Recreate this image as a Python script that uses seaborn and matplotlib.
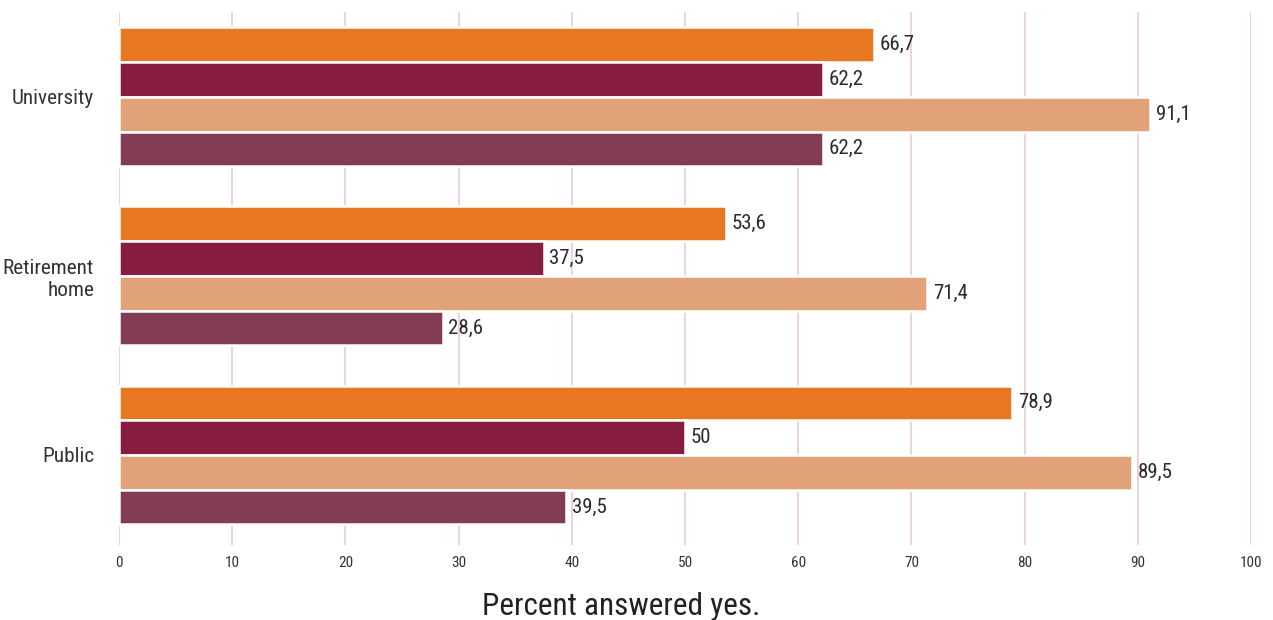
import matplotlib
matplotlib.use("Agg")
import matplotlib.pyplot as plt
import matplotlib.font_manager as fm
import pandas as pd
import seaborn as sns

categories = ["University", "Retirement\nhome", "Public"]
series = ["Q1", "Q2", "Q3", "Q4"]
q1 = [66.7, 53.6, 78.9]
q2 = [62.2, 37.5, 50.0]
q3 = [91.1, 71.4, 89.5]
q4 = [62.2, 28.6, 39.5]
colors = ["#E87722", "#861C3F", "#E1A27A", "#823D55"]
x_ticks = list(range(0, 101, 10))

sns.set_theme(style="white")

# prefer a narrow sans face when one is installed
narrow = [f for f in fm.fontManager.ttflist
          if f.stretch in ("condensed", "semi-condensed", "extra-condensed")
          or "Condensed" in f.name or "Narrow" in f.name]
pref = ["Roboto", "Noto Sans", "Open Sans", "Liberation Sans Narrow", "Lato", "Inter", "DejaVu Sans"]
family, stretch = "Roboto", "normal"
for p in pref:
    hits = [f for f in narrow if f.name.startswith(p) and "Mono" not in f.name and "Serif" not in f.name]
    if hits:
        family = hits[0].name
        stretch = hits[0].stretch
        break
plt.rcParams["font.family"] = [family, "DejaVu Sans"]
plt.rcParams["font.stretch"] = stretch

rows = []
for s, vals in zip(series, [q1, q2, q3, q4]):
    for c, v in zip(categories, vals):
        rows.append({"category": c, "series": s, "value": v})
df = pd.DataFrame(rows)

fig = plt.figure(figsize=(12.73, 6.2), dpi=100)
ax = fig.add_axes([0.0935, 0.121, 0.8892, 0.860])

sns.barplot(data=df, y="category", x="value", hue="series", order=categories,
            hue_order=series, palette=colors, saturation=1, orient="h", width=0.775,
            edgecolor="white", linewidth=1.8, legend=False, ax=ax, zorder=2)

def fmt(v):
    return f"{v:g}".replace(".", ",")

for cont in ax.containers:
    ax.bar_label(cont, labels=[fmt(b.get_width()) for b in cont], padding=4,
                 fontsize=15, color="#2b2b2b")

ax.set_xlim(0, 100)
ax.set_ylim(2.503, -0.475)
ax.set_xticks(x_ticks)
ax.set_xticklabels([str(t) for t in x_ticks], fontsize=11, color="#333333")
ax.tick_params(axis="x", length=0, pad=8)
ax.tick_params(axis="y", length=0, pad=18)
for lbl in ax.get_yticklabels():
    lbl.set_fontsize(15.3)
    lbl.set_color("#333333")
    lbl.set_horizontalalignment("right")
    lbl.set_multialignment("right")
ax.grid(axis="x", color="#E8CCD7", linewidth=1.2, zorder=0)
ax.set_axisbelow(True)
for sp in ax.spines.values():
    sp.set_visible(False)
ax.set_ylabel("")
ax.set_xlabel("Percent answered yes.", fontsize=22.5, color="#222222")
ax.xaxis.set_label_coords(0.4435, -0.089)
ax.xaxis.label.set_verticalalignment("top")

fig.savefig("out.png", dpi=100, facecolor="white")
